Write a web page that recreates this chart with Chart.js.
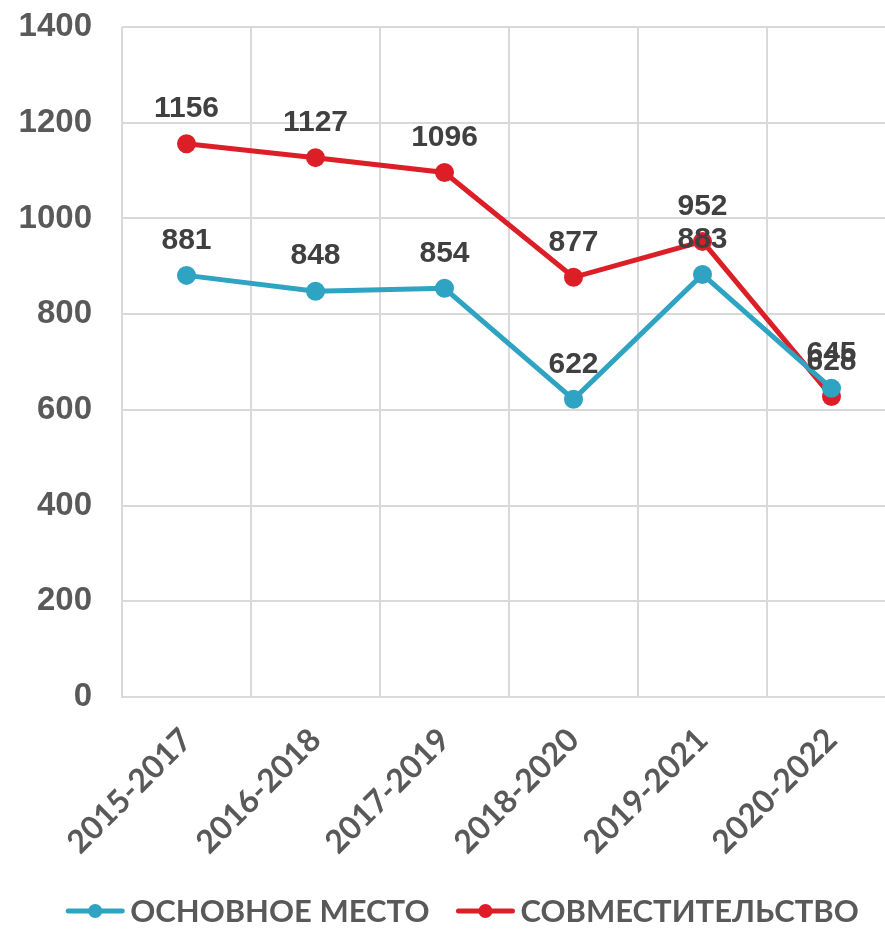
<!DOCTYPE html>
<html><head><meta charset="utf-8">
<script src="https://cdn.jsdelivr.net/npm/chart.js@4/dist/chart.umd.min.js"></script>
<style>html,body{margin:0;padding:0;overflow:hidden;background:#fff}#wrap{width:908px;height:930px}</style>
</head><body><div id="wrap"><canvas id="c" width="908" height="930"></canvas></div>
<script>
const categories = ['2015-2017','2016-2018','2017-2019','2018-2020','2019-2021','2020-2022'];
const mainPlace = [881, 848, 854, 622, 883, 645];
const partTime = [1156, 1127, 1096, 877, 952, 628];
const seriesNames = ['ОСНОВНОЕ МЕСТО','СОВМЕСТИТЕЛЬСТВО'];
const yTicks = [0,200,400,600,800,1000,1200,1400];
const BLUE = '#2ea3c2', RED = '#dc1f27';

const labelPlugin = {
  id:'dl',
  afterDatasetsDraw(chart){
    const ctx = chart.ctx;
    ctx.save();
    ctx.font = 'bold 30px "Liberation Sans", sans-serif';
    ctx.fillStyle = '#404040';
    ctx.textAlign = 'center'; ctx.textBaseline = 'middle';
    chart.data.datasets.forEach((ds, i) => {
      const meta = chart.getDatasetMeta(i);
      meta.data.forEach((p, j) => {
        ctx.fillText(String(ds.data[j]), p.x, p.y - 35);
      });
    });
    ctx.restore();
  }
};

const legendPlugin = {
  id:'customLegend',
  afterDraw(chart){
    const ctx = chart.ctx;
    ctx.save();
    ctx.font = 'bold 31px Lato, "Open Sans", sans-serif';
    const sym = 58, gapT = 6, gapI = 27;
    const ds = chart.data.datasets;
    const widths = ds.map(d => ctx.measureText(d.label).width);
    let total = 0;
    widths.forEach((w,i)=>{ total += sym + gapT + w + (i < widths.length-1 ? gapI : 0); });
    let x = 462.5 - total/2;
    const y = 911;
    ds.forEach((d,i)=>{
      ctx.strokeStyle = d.borderColor; ctx.lineWidth = 5; ctx.lineCap = 'round';
      ctx.beginPath(); ctx.moveTo(x+2, y); ctx.lineTo(x+sym-2, y); ctx.stroke();
      ctx.fillStyle = d.borderColor;
      ctx.beginPath(); ctx.arc(x+sym/2, y, 7, 0, Math.PI*2); ctx.fill();
      ctx.fillStyle = '#595959'; ctx.textAlign='left'; ctx.textBaseline='middle';
      ctx.fillText(d.label, x+sym+gapT, y+1);
      x += sym + gapT + widths[i] + gapI;
    });
    ctx.restore();
  }
};

new Chart(document.getElementById('c'), {
  type:'line',
  data:{
    labels: categories,
    datasets:[
      {label: seriesNames[0], data: mainPlace, borderColor: BLUE, backgroundColor: BLUE, borderWidth:5, pointRadius:7, pointHoverRadius:7, pointStyle:'circle', tension:0},
      {label: seriesNames[1], data: partTime, borderColor: RED, backgroundColor: RED, borderWidth:5, pointRadius:7, pointHoverRadius:7, pointStyle:'circle', tension:0}
    ]
  },
  options:{
    responsive:false, animation:false,
    layout:{padding:{top:27, left:0, right:0, bottom:0}},
    plugins:{
      tooltip:{enabled:false},
      legend:{display:false}
    },
    scales:{
      x:{
        offset:true,
        grid:{offset:true, color:'#d9d9d9', lineWidth:2, drawTicks:false},
        border:{color:'#d9d9d9', width:2},
        ticks:{color:'#595959', font:{family:'Lato, "Open Sans", sans-serif', size:32, weight:'bold'}, minRotation:45, maxRotation:45, padding:24},
        afterFit(s){ s.height = 233; s.paddingLeft = 0; s.paddingRight = 0; }
      },
      y:{
        min:0, max:1400,
        afterBuildTicks(s){ s.ticks = yTicks.map(v=>({value:v})); },
        grid:{color:'#d9d9d9', lineWidth:2, drawTicks:false},
        border:{display:false},
        ticks:{color:'#595959', font:{family:'"Liberation Sans", sans-serif', size:33, weight:'bold'}, padding:30, callback:(v)=>String(v)},
        afterFit(s){ s.width = 122; s.paddingTop = 0; s.paddingBottom = 0; }
      }
    }
  },
  plugins:[labelPlugin, legendPlugin]
});
</script></body></html>
